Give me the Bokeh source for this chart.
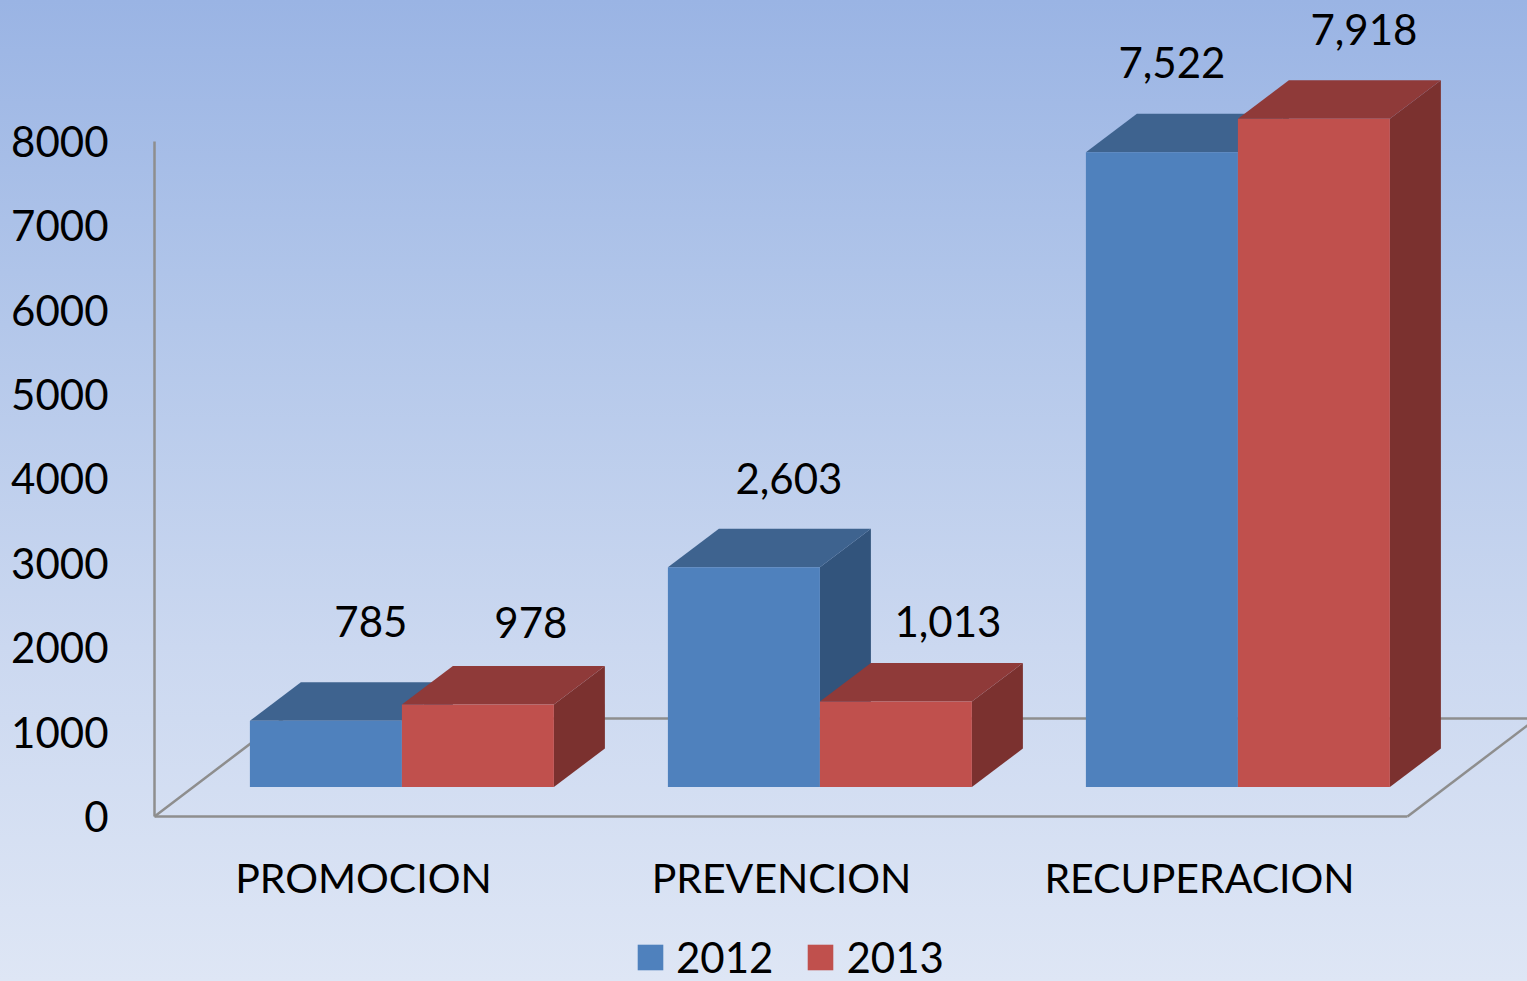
from bokeh.plotting import figure
from bokeh.models import ColumnDataSource, LinearAxis, FixedTicker, Legend, LegendItem, NumeralTickFormatter
from bokeh.core.properties import value
from bokeh.embed import file_html
from bokeh.resources import INLINE

categories = ["PROMOCION", "PREVENCION", "RECUPERACION"]
series_names = ["2012", "2013"]
values_2012 = [785, 2603, 7522]
values_2013 = [978, 1013, 7918]
y_ticks = [0, 1000, 2000, 3000, 4000, 5000, 6000, 7000, 8000]

# Layout (pixels of the picture)
W, H = 1527, 981
PAD = 0
GROUP_PX = 418.0
PX_PER_VALUE = 0.0844
ZERO_Y = 816.0
FIRST_LABEL_X = 363.0
BAR_PX = 152.0
GROUP_SHIFT_PX = 38.4
DEPTH_X = 51.0
DEPTH_Y = 38.5
BASE_LIFT = 29.5
FLOOR_LEFT = 154.0
FLOOR_RIGHT = 1407.0
FLOOR_DX = 129.0
FLOOR_DY = 98.0
FONT = "Lato"
FS = "42px"
FS_CAT = "41px"
GRAY = "#8e8e8e"
BLUE, BLUE_TOP, BLUE_SIDE = "#4f81bd", "#3e638f", "#32547c"
RED, RED_TOP, RED_SIDE = "#c0504d", "#8f3a39", "#7b312f"
# data label nudges relative to each bar's front-top centre
dx_2012, dy_2012 = [45, 45, 10], [-99, -89, -90]
dx_2013, dy_2013 = [53, 52, 50], [-82, -80, -89]


def ux(px):
    return (px - FIRST_LABEL_X) / GROUP_PX


def vy(py):
    return (ZERO_Y - py) / PX_PER_VALUE


p = figure(
    width=W, height=H, output_backend="svg", toolbar_location=None,
    x_range=(ux(PAD), ux(PAD + W)), y_range=(vy(PAD + H), vy(PAD)),
    x_axis_location=None, y_axis_location=None, min_border=0,
    outline_line_color=None, background_fill_color=None, border_fill_color=None,
)
p.styles = {"background": "linear-gradient(180deg, #9ab4e4 0%, #b3c7ea 33%, #cbd8f0 66%, #dee6f5 100%)"}
p.grid.visible = False

bw = BAR_PX / GROUP_PX
ddx = DEPTH_X / GROUP_PX
ddv = DEPTH_Y / PX_PER_VALUE
base = BASE_LIFT / PX_PER_VALUE
shift = GROUP_SHIFT_PX / GROUP_PX

# floor
p.multi_line(
    xs=[[ux(FLOOR_LEFT), ux(FLOOR_LEFT + FLOOR_DX), ux(FLOOR_RIGHT + FLOOR_DX)],
        [ux(FLOOR_RIGHT), ux(FLOOR_RIGHT + FLOOR_DX)]],
    ys=[[0, FLOOR_DY / PX_PER_VALUE, FLOOR_DY / PX_PER_VALUE],
        [0, FLOOR_DY / PX_PER_VALUE]],
    line_color=GRAY, line_width=2.5,
)

renderers = []
for k, (vals, front, top, side) in enumerate([
    (values_2012, BLUE, BLUE_TOP, BLUE_SIDE),
    (values_2013, RED, RED_TOP, RED_SIDE),
]):
    lefts = [i + shift - bw + k * bw for i in range(len(vals))]
    rights = [l + bw for l in lefts]
    tops = [base + v for v in vals]
    p.patches(
        xs=[[r, r + ddx, r + ddx, r] for r in rights],
        ys=[[base, base + ddv, t + ddv, t] for t in tops],
        fill_color=side, line_color=None,
    )
    p.patches(
        xs=[[l, l + ddx, r + ddx, r] for l, r in zip(lefts, rights)],
        ys=[[t, t + ddv, t + ddv, t] for t in tops],
        fill_color=top, line_color=None,
    )
    renderers.append(p.quad(left=lefts, right=rights, bottom=base, top=tops,
                            fill_color=front, line_color=None))

# data labels
for k, (vals, dxs, dys) in enumerate([(values_2012, dx_2012, dy_2012), (values_2013, dx_2013, dy_2013)]):
    src = ColumnDataSource(dict(
        x=[i + shift - bw / 2 + k * bw for i in range(len(vals))],
        y=[base + v for v in vals],
        t=[f"{v:,}" for v in vals],
        xo=dxs, yo=dys,
    ))
    p.text(x="x", y="y", text="t", x_offset="xo", y_offset="yo", source=src,
           text_font=value(FONT), text_font_size=FS, text_color="#000000",
           text_align="center", text_baseline="middle")

# axes
yaxis = LinearAxis(fixed_location=ux(FLOOR_LEFT), ticker=FixedTicker(ticks=y_ticks),
                   formatter=NumeralTickFormatter(format="0"), bounds=(0, y_ticks[-1]))
yaxis.axis_line_color = GRAY
yaxis.axis_line_width = 2.5
yaxis.major_tick_line_color = None
yaxis.minor_tick_line_color = None
yaxis.major_label_standoff = 40
yaxis.major_label_text_font = FONT
yaxis.major_label_text_font_size = FS
yaxis.major_label_text_color = "#000000"
p.add_layout(yaxis, "left")

xaxis = LinearAxis(fixed_location=0, ticker=FixedTicker(ticks=list(range(len(categories)))),
                   major_label_overrides={i: c for i, c in enumerate(categories)},
                   bounds=(ux(FLOOR_LEFT), ux(FLOOR_RIGHT)))
xaxis.axis_line_color = GRAY
xaxis.axis_line_width = 2.5
xaxis.major_tick_line_color = None
xaxis.minor_tick_line_color = None
xaxis.major_label_standoff = 30
xaxis.major_label_text_font = FONT
xaxis.major_label_text_font_size = FS_CAT
xaxis.major_label_text_color = "#000000"
p.add_layout(xaxis, "below")

legend = Legend(
    items=[LegendItem(label=n, renderers=[r]) for n, r in zip(series_names, renderers)],
    orientation="horizontal", location=(634, -1),
    background_fill_alpha=0, border_line_alpha=0, padding=0, margin=0,
    glyph_width=32, glyph_height=32, label_standoff=10, spacing=31,
    label_text_font=FONT, label_text_font_size=FS, label_text_color="#000000",
    label_height=30, click_policy="none",
)
p.add_layout(legend, "center")

open("out.html", "w").write(file_html(p, INLINE))
